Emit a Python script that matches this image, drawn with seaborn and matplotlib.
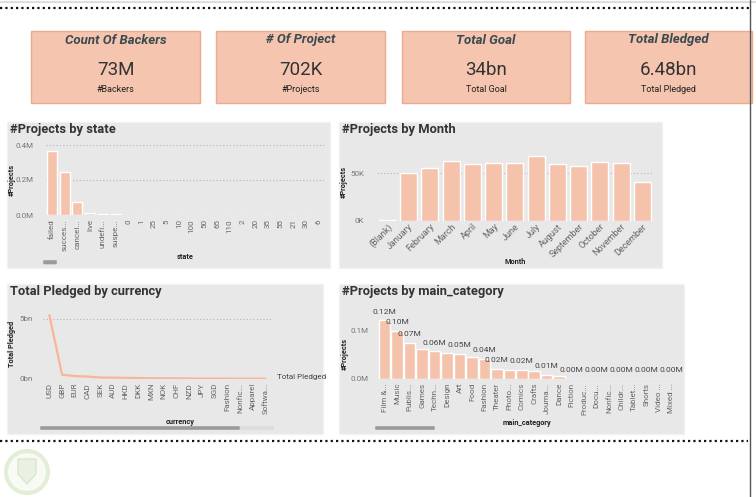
import numpy as np
import pandas as pd
import seaborn as sns
import matplotlib.pyplot as plt
from matplotlib.patches import Rectangle, FancyBboxPatch, Circle, Polygon
from matplotlib.ticker import FuncFormatter

W, H = 756, 497
FONT = ['Roboto', 'DejaVu Sans']
BAR = '#F5C3AB'
LINE = '#F8B597'
PANEL = '#E8E8E8'
TXT = '#333333'
GREY = '#666666'

# KPI cards
card_titles = ['Count Of Backers', '# Of Project', 'Total Goal', 'Total Bledged']
card_values = ['73M', '702K', '34bn', '6.48bn']
card_subs = ['#Backers', '#Projects', 'Total Goal', 'Total Pledged']

# projects by state
state_names = ['failed', 'succes...', 'cancel...', 'live', 'undefi...', 'suspe...',
               '0', '1', '25', '5', '10', '100', '50', '65', '110', '2', '20',
               '35', '55', '21', '30', '6']
state_counts = [366000, 248000, 76000, 9000, 8000, 3500,
                1500, 1500, 1500, 1500, 1500, 1500, 1500, 1500, 1500, 1500,
                1500, 1500, 1500, 1500, 1500, 1500]

# projects by month (thousands)
months = ['(Blank)', 'January', 'February', 'March', 'April', 'May', 'June',
          'July', 'August', 'September', 'October', 'November', 'December']
month_counts = [0.7, 50.7, 56, 63, 60, 61, 61, 68.7, 60, 58, 62, 61, 41]

# pledged by currency (bn)
currencies = ['USD', 'GBP', 'EUR', 'CAD', 'SEK', 'AUD', 'HKD', 'DKK', 'MXN',
              'NOK', 'CHF', 'NZD', 'JPY', 'SGD', 'Fashion', 'Nonfic...',
              'Apparel', 'Softwa...']
pledged = [5.3, 0.33, 0.22, 0.18, 0.10, 0.09, 0.07, 0.05, 0.04,
           0.03, 0.03, 0.02, 0.01, 0.01, 0.002, 0.001, 0.001, 0.001]

# projects by main category
categories = ['Film &...', 'Music', 'Publis...', 'Games', 'Techn...', 'Design',
              'Art', 'Food', 'Fashion', 'Theater', 'Photo...', 'Comics',
              'Crafts', 'Journa...', 'Dance', 'Fiction', 'Produc...', 'Docu...',
              'Nonfic...', 'Childr...', 'Tablet...', 'Shorts', 'Video ...',
              'Mixed ...']
cat_counts = [121000, 99000, 74000, 62000, 57000, 54000, 51000, 45000, 41000,
              20000, 19000, 18000, 15000, 7600, 5500, 400, 400, 400, 400, 400,
              400, 400, 400, 400]
cat_labeled = [0, 1, 2, 4, 6, 8, 9, 11, 13, 15, 17, 19, 21, 23]

sns.set_theme(style='white')
plt.rcParams['font.family'] = FONT

fig = plt.figure(figsize=(W / 100, H / 100), dpi=100)
fig.patch.set_facecolor('white')


def box(x0, y0, x1, y1):
    return [x0 / W, 1 - y1 / H, (x1 - x0) / W, (y1 - y0) / H]


# background layer in pixel coordinates
bg = fig.add_axes([0, 0, 1, 1], zorder=-1)
bg.set_xlim(0, W)
bg.set_ylim(H, 0)
bg.axis('off')

bg.plot([0, W], [2, 2], color='#dddddd', lw=1.5)
bg.plot([0, 750], [8, 8], color='#111111', lw=1.6, ls=(0, (1, 1.4)))
bg.plot([0, 748], [441, 441], color='#111111', lw=1.6, ls=(0, (1, 1.4)))
bg.plot([750, 750], [0, 497], color='#555555', lw=1)

# logo
bg.add_patch(Circle((27, 472), 21, facecolor='#f8fbf5', edgecolor='#e3eed8', lw=3))
bg.add_patch(Polygon([(18, 459), (36, 459), (36, 474), (27, 484), (18, 474)],
                     closed=True, facecolor='#e9f1e0', edgecolor='#dae7cc', lw=1))

# KPI cards
card_x = [(31, 200), (216, 385), (402, 570), (585, 752)]
for (x0, x1), t, v, s in zip(card_x, card_titles, card_values, card_subs):
    bg.add_patch(Rectangle((x0, 31), x1 - x0, 72, facecolor='#F5C5AF',
                           edgecolor='#EFA98F', lw=1))
    cx = (x0 + x1) / 2
    bg.text(cx, 40, t, ha='center', va='center', fontsize=9.5,
            fontweight='bold', fontstyle='italic', color='#3b4a50')
    bg.text(cx, 70, v, ha='center', va='center', fontsize=13.5, color=TXT)
    bg.text(cx, 89.5, s, ha='center', va='center', fontsize=6.5, color='#222222')

# panels
panels = [(7, 122, 330, 268, '#Projects by state'),
          (339, 122, 662, 268, '#Projects by Month'),
          (7, 284, 323, 434, 'Total Pledged by currency'),
          (339, 284, 684, 434, '#Projects by main_category')]
for x0, y0, x1, y1, title in panels:
    bg.add_patch(Rectangle((x0, y0), x1 - x0, y1 - y0, facecolor=PANEL,
                           edgecolor='#f2f2f2', lw=1))
    bg.text(x0 + 3, y0 + 8, title, ha='left', va='center', fontsize=9.3,
            fontweight='bold', color=TXT)

# axis titles
for x, y, s in [(12, 180, '#Projects'), (344, 182, '#Projects'),
                (12, 344, 'Total Pledged'), (345, 354, '#Projects')]:
    bg.text(x, y, s, rotation=90, ha='center', va='center', fontsize=5.3,
            fontweight='bold', color='#222222')
for x, y, s in [(185, 257, 'state'), (515, 262, 'Month'),
                (180, 422, 'currency'), (527, 423, 'main_category')]:
    bg.text(x, y, s, ha='center', va='center', fontsize=5.3,
            fontweight='bold', color='#222222')

# scroll bars
bg.add_patch(FancyBboxPatch((44, 261), 12, 2.5, boxstyle='round,pad=0.8',
                            facecolor='#9a9a9a', edgecolor='none'))
bg.add_patch(FancyBboxPatch((240, 427), 33, 2, boxstyle='round,pad=0.8',
                            facecolor='#dcdcdc', edgecolor='none'))
bg.add_patch(FancyBboxPatch((41, 427), 198, 2, boxstyle='round,pad=0.8',
                            facecolor='#9a9a9a', edgecolor='none'))
bg.add_patch(FancyBboxPatch((376, 427), 58, 2, boxstyle='round,pad=0.8',
                            facecolor='#9a9a9a', edgecolor='none'))


def style(ax, ypad):
    ax.set_facecolor('none')
    sns.despine(ax=ax, left=True, bottom=True)
    ax.set_xlabel('')
    ax.set_ylabel('')
    ax.tick_params(axis='y', labelsize=5.8, colors='#777777', length=0, pad=ypad)
    ax.tick_params(axis='x', labelsize=5.8, colors=GREY, length=0, pad=3)


grid_kw = dict(linestyle=(0, (1, 2)), color='#b5b5b5', lw=0.8)

# state
ax1 = fig.add_axes(box(45.7, 139.75, 325, 215))
sns.barplot(x=state_names, y=state_counts, color=BAR, saturation=1, width=0.79, ax=ax1)
ax1.set_xlim(-0.5, len(state_names) - 0.5)
ax1.set_ylim(0, 430000)
ax1.set_yticks([0, 200000, 400000])
ax1.yaxis.set_major_formatter(FuncFormatter(lambda v, p: f'{v / 1e6:.1f}M'))
ax1.yaxis.grid(True, **grid_kw)
ax1.set_axisbelow(True)
style(ax1, 9)
ax1.tick_params(axis='x', labelrotation=90)

# month
ax2 = fig.add_axes(box(376.7, 149.6, 652.9, 220.7))
sns.barplot(x=months, y=month_counts, color=BAR, saturation=1, width=0.8, ax=ax2)
ax2.set_xlim(-0.5, len(months) - 0.5)
ax2.set_ylim(0, 75)
ax2.set_yticks([0, 50])
ax2.yaxis.set_major_formatter(FuncFormatter(lambda v, p: f'{v:.0f}K'))
ax2.yaxis.grid(True, **grid_kw)
ax2.set_axisbelow(True)
style(ax2, 9)
ax2.tick_params(axis='x', pad=1)
plt.setp(ax2.get_xticklabels(), rotation=45, ha='right', rotation_mode='anchor',
         fontsize=6.5)

# currency
ax3 = fig.add_axes(box(43, 304.3, 271.7, 378.7))
sns.lineplot(x=currencies, y=pledged, sort=False, color=LINE, lw=1.6, ax=ax3)
ax3.set_xlim(-0.5, len(currencies) - 0.5)
ax3.set_ylim(0, 6.2)
ax3.set_yticks([0, 5])
ax3.yaxis.set_major_formatter(FuncFormatter(lambda v, p: f'{v:.0f}bn'))
ax3.yaxis.grid(True, **grid_kw)
ax3.set_axisbelow(True)
style(ax3, 7)
ax3.tick_params(axis='x', labelrotation=90)
bg.text(277, 377, 'Total Pledged', ha='left', va='center', fontsize=5.8, color='#444444')

# main category
ax4 = fig.add_axes(box(378.4, 311, 677.6, 378.7))
sns.barplot(x=categories, y=cat_counts, color=BAR, saturation=1, width=0.92, ax=ax4)
ax4.set_xlim(-0.5, len(categories) - 0.5)
ax4.set_ylim(0, 140000)
ax4.set_yticks([0, 100000])
ax4.yaxis.set_major_formatter(FuncFormatter(lambda v, p: f'{v / 1e6:.1f}M'))
style(ax4, 7)
ax4.tick_params(axis='x', labelrotation=90)
for i in cat_labeled:
    ax4.annotate(f'{cat_counts[i] / 1e6:.2f}M', (i, cat_counts[i]),
                 xytext=(0, 4), textcoords='offset points', ha='center',
                 va='bottom', fontsize=6, color='#444444')

fig.savefig('out.png', dpi=100, facecolor='white')
